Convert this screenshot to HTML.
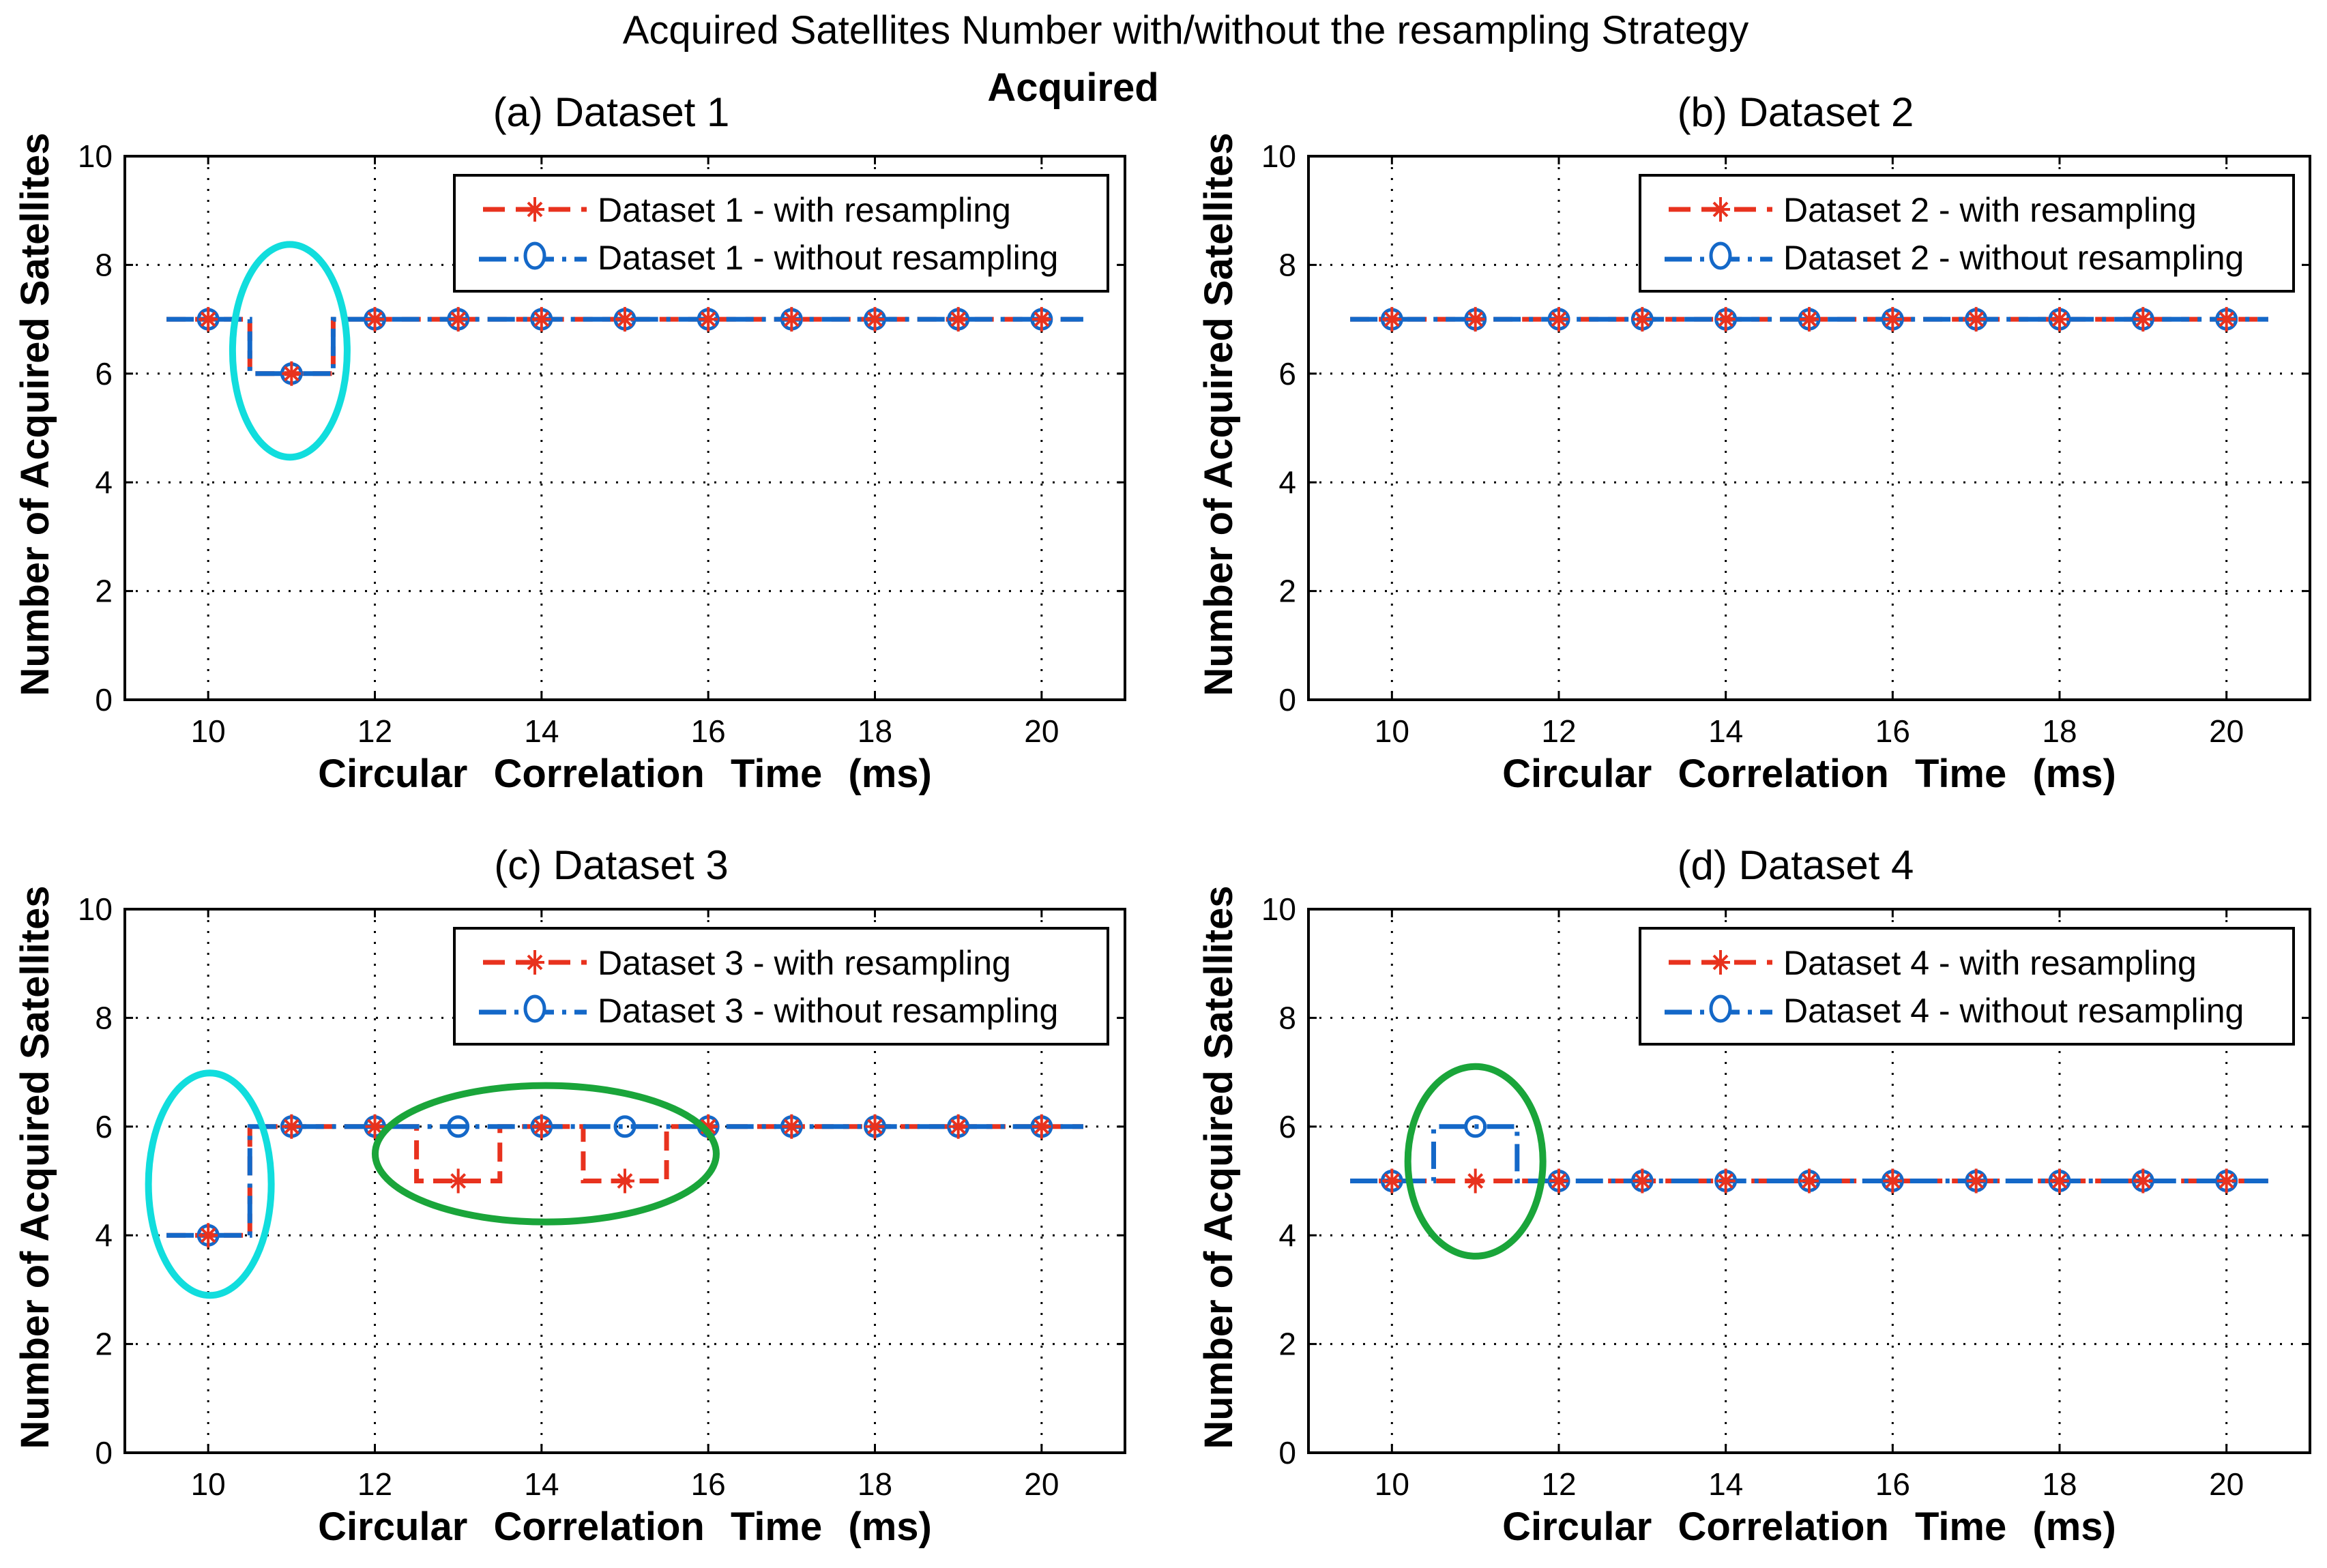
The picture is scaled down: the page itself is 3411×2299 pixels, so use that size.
<!DOCTYPE html>
<html><head><meta charset="utf-8"><style>
html,body{margin:0;padding:0;background:#fff;}
svg{display:block;font-family:"Liberation Sans Narrow","Liberation Sans",sans-serif;}
</style></head><body>
<svg id="fig" width="3411" height="2299" viewBox="0 0 3411 2299">
<text x="1738" y="64" font-size="58" text-anchor="middle">Acquired Satellites Number with/without the resampling Strategy</text>
<text x="1573" y="148" font-size="58" font-weight="bold" font-family="Liberation Sans, sans-serif" text-anchor="middle">Acquired</text>
</svg>
<script>
const xs = [10,11,12,13,14,15,16,17,18,19,20];
const xTicks = [10,12,14,16,18,20];
const yTicks = [0,2,4,6,8,10];
const withA = [7,6,7,7,7,7,7,7,7,7,7];
const withoutA = [7,6,7,7,7,7,7,7,7,7,7];
const withB = [7,7,7,7,7,7,7,7,7,7,7];
const withoutB = [7,7,7,7,7,7,7,7,7,7,7];
const withC = [4,6,6,5,6,5,6,6,6,6,6];
const withoutC = [4,6,6,6,6,6,6,6,6,6,6];
const withD = [5,5,5,5,5,5,5,5,5,5,5];
const withoutD = [5,6,5,5,5,5,5,5,5,5,5];
const panelTitles = ["(a) Dataset 1","(b) Dataset 2","(c) Dataset 3","(d) Dataset 4"];
const legendNames = ["Dataset 1","Dataset 2","Dataset 3","Dataset 4"];

const NS="http://www.w3.org/2000/svg";
const svg=document.getElementById('fig');
function mk(tag,attrs,parent){const e=document.createElementNS(NS,tag);for(const k in attrs)e.setAttribute(k,attrs[k]);(parent||svg).appendChild(e);return e;}

const panels=[
 {L:183,R:1649,T:229,B:1026,w:withA,wo:withoutA,ell:[{cx:10.98,cy:6.42,rx:84,ry:156,c:"#11dddd"}]},
 {L:1918,R:3386,T:229,B:1026,w:withB,wo:withoutB,ell:[]},
 {L:183,R:1649,T:1333,B:2130,w:withC,wo:withoutC,ell:[{cx:10.02,cy:4.94,rx:90,ry:163,c:"#11dddd"},{cx:14.05,cy:5.5,rx:250,ry:100,c:"#1aa53a"}]},
 {L:1918,R:3386,T:1333,B:2130,w:withD,wo:withoutD,ell:[{cx:11,cy:5.36,rx:99,ry:139,c:"#1aa53a"}]}
];
panels.forEach((p,i)=>{
 const g=mk('g',{});
 
 
 const sx=v=>p.L+(v-9)/12*(p.R-p.L);
 const sy=v=>p.B-(v/10)*(p.B-p.T);
 const cx=(p.L+p.R)/2;
 xTicks.forEach(t=>{const l=mk('line',{x1:sx(t),x2:sx(t),y1:p.T,y2:p.B,stroke:'#000','stroke-width':3,'stroke-dasharray':'3 13'},g);
  
  const tx=mk('text',{x:sx(t),y:p.B+62,'font-size':46,'text-anchor':'middle'},g);tx.textContent=t;
  
  mk('line',{x1:sx(t),x2:sx(t),y1:p.B,y2:p.B-12,stroke:'#000','stroke-width':3},g);
  mk('line',{x1:sx(t),x2:sx(t),y1:p.T,y2:p.T+12,stroke:'#000','stroke-width':3},g);});
 yTicks.forEach(t=>{const l=mk('line',{x1:p.L,x2:p.R,y1:sy(t),y2:sy(t),stroke:'#000','stroke-width':3,'stroke-dasharray':'3 13'},g);
  
  const tx=mk('text',{x:p.L-18,y:sy(t)+16,'font-size':46,'text-anchor':'end'},g);tx.textContent=t;
  
  mk('line',{x1:p.L,x2:p.L+12,y1:sy(t),y2:sy(t),stroke:'#000','stroke-width':3},g);
  mk('line',{x1:p.R,x2:p.R-12,y1:sy(t),y2:sy(t),stroke:'#000','stroke-width':3},g);});
 const ax=mk('rect',{x:p.L,y:p.T,width:p.R-p.L,height:p.B-p.T,fill:'none',stroke:'#000','stroke-width':4},g);
 
 const tt=mk('text',{x:cx-20,y:p.T-44,'font-size':60,'text-anchor':'middle'},g);tt.textContent=panelTitles[i];
 
 const xl=mk('text',{x:cx,y:p.B+128,'font-size':58,'font-weight':'bold','font-family':'Liberation Sans, sans-serif','text-anchor':'middle','word-spacing':'22'},g);xl.textContent='Circular Correlation Time (ms)';
 
 const yx=p.L-112,yy=(p.T+p.B)/2-20;
 const yl=mk('text',{x:yx,y:yy,'font-size':58,'font-weight':'bold','font-family':'Liberation Sans, sans-serif','text-anchor':'middle',transform:`rotate(-90 ${yx} ${yy})`},g);yl.textContent='Number of Acquired Satellites';
 
 function stairs(vals){let d=`M${sx(xs[0]-0.5)},${sy(vals[0])}`;for(let k=0;k<vals.length;k++){const a=sx(xs[k]-0.5),b=sx(xs[k]+0.5);d+=` L${a},${sy(vals[k])} L${b},${sy(vals[k])}`;}return d;}
 const pw=mk('path',{d:stairs(p.w),fill:'none',stroke:'#e8321e','stroke-width':7,'stroke-dasharray':'28 14'},g);
 
 const pwo=mk('path',{d:stairs(p.wo),fill:'none',stroke:'#1468c8','stroke-width':7,'stroke-dasharray':'40 12 6 12'},g);
 
 xs.forEach((x,k)=>{
  const c=mk('circle',{cx:sx(x),cy:sy(p.wo[k]),r:14,fill:'none',stroke:'#1468c8','stroke-width':5},g);
  
  const X=sx(x),Y=sy(p.w[k]);
  const s=mk('path',{d:`M${X-14},${Y}H${X+14}M${X},${Y-18}V${Y+18}M${X-10},${Y-10}L${X+10},${Y+10}M${X-10},${Y+10}L${X+10},${Y-10}`,stroke:'#e8321e','stroke-width':4},g);
  
 });
 p.ell.forEach(e=>{const el=mk('ellipse',{cx:sx(e.cx),cy:sy(e.cy),rx:e.rx,ry:e.ry,fill:'none',stroke:e.c,'stroke-width':10},g);
  });
 const lx=(i%2===0)?666:2404,ly=p.T+28,lw=958,lh=170;
 const lg=mk('g',{},g);
 mk('rect',{x:lx,y:ly,width:lw,height:lh,fill:'#fff',stroke:'#000','stroke-width':4},lg);
 const r1=ly+50,r2=ly+126;
 mk('line',{x1:lx+42,x2:lx+194,y1:r1,y2:r1,stroke:'#e8321e','stroke-width':7,'stroke-dasharray':'32 16'},lg);
 const X=lx+118;
 mk('path',{d:`M${X-14},${r1}H${X+14}M${X},${r1-18}V${r1+18}M${X-10},${r1-10}L${X+10},${r1+10}M${X-10},${r1+10}L${X+10},${r1-10}`,stroke:'#e8321e','stroke-width':4},lg);
 mk('line',{x1:lx+36,x2:lx+194,y1:r2-3,y2:r2-3,stroke:'#1468c8','stroke-width':7,'stroke-dasharray':'40 12 6 12'},lg);
 mk('ellipse',{cx:X,cy:r2-8,rx:14,ry:18,fill:'#fff',stroke:'#1468c8','stroke-width':5},lg);
 const e1=mk('text',{x:lx+210,y:r1+18,'font-size':50},lg);e1.textContent=legendNames[i]+' - with resampling';
 
 const e2=mk('text',{x:lx+210,y:r2+12,'font-size':50},lg);e2.textContent=legendNames[i]+' - without resampling';
 
});
</script>
</body></html>
